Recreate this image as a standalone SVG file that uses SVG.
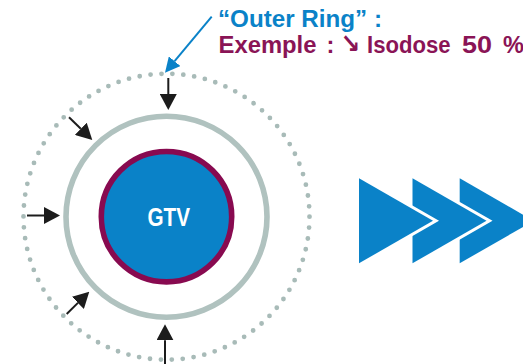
<svg xmlns="http://www.w3.org/2000/svg" width="523" height="364" viewBox="0 0 523 364">
  <style>
    .lbl { font-family: "Liberation Sans", Arial, "DejaVu Sans", sans-serif; font-weight: bold; font-size: 23.5px; }
    .blue { fill: #0a82c8; }
    .plum { fill: #8a1456; }
    .push { stroke: #1c1c1c; stroke-width: 2; fill: none; marker-end: url(#head); }
    .tri { fill: #0a82c8; stroke: #ffffff; stroke-width: 6; stroke-linejoin: miter; paint-order: stroke; }
  </style>
  <defs>
    <marker id="head" markerUnits="userSpaceOnUse" markerWidth="16" markerHeight="17" refX="0" refY="8.5" orient="auto">
      <path d="M0,0 L16,8.5 L0,17 z" fill="#1c1c1c"/>
    </marker>
    <marker id="headBlue" markerUnits="userSpaceOnUse" markerWidth="15" markerHeight="15" refX="0" refY="7.5" orient="auto">
      <path d="M0,0 L15,7.5 L0,15 z" fill="#0a82c8"/>
    </marker>
  </defs>

  <!-- outer ring boundary (dotted) -->
  <g id="outer-ring">
    <circle cx="166.5" cy="216.7" r="143" fill="none" stroke="#a8bbb8" stroke-width="4.8" stroke-linecap="round" stroke-dasharray="0 10.96"/>
  </g>

  <!-- inner margin ring -->
  <g id="margin-ring">
    <circle cx="166.5" cy="216.7" r="100.5" fill="none" stroke="#b0c2bf" stroke-width="5.6"/>
  </g>

  <!-- gross tumour volume -->
  <g id="gtv">
    <circle cx="166.5" cy="216.7" r="65.2" fill="#0a82c8" stroke="#880a50" stroke-width="5.6"/>
    <text class="lbl" x="147.5" y="226" style="font-size:25px" textLength="42.5" lengthAdjust="spacingAndGlyphs" fill="#ffffff">GTV</text>
  </g>

  <!-- label -->
  <g id="label">
    <text class="lbl blue" x="218" y="26.7" textLength="164" lengthAdjust="spacingAndGlyphs">“Outer Ring” :</text>
    <text class="lbl plum" y="52.7">
      <tspan x="218.5" textLength="98" lengthAdjust="spacingAndGlyphs">Exemple</tspan>
      <tspan x="326.5">:</tspan>
      <tspan x="340.5" style="font-size:27px" textLength="19.5" lengthAdjust="spacingAndGlyphs">↘</tspan>
      <tspan x="367" textLength="83.5" lengthAdjust="spacingAndGlyphs">Isodose</tspan>
      <tspan x="462" textLength="30" lengthAdjust="spacingAndGlyphs">50</tspan>
      <tspan x="503">%</tspan>
    </text>
  </g>

  <!-- forward chevrons -->
  <g id="chevrons">
    <polygon class="tri" points="459.7,178.3 533.7,220.8 459.7,263.3"/>
    <polygon class="tri" points="412.5,178.3 486.5,220.8 412.5,263.3"/>
    <polygon class="tri" points="359,178.3 433,220.8 359,263.3"/>
  </g>

  <!-- connectors -->
  <g id="connectors">
    <line x1="211.7" y1="16.7" x2="174.6" y2="61.2" stroke="#0a82c8" stroke-width="2" marker-end="url(#headBlue)"/>
    <line class="push" x1="168.3" y1="78" x2="168.3" y2="94"/>
    <line class="push" x1="27" y1="215.5" x2="44" y2="215.5"/>
    <line class="push" x1="165" y1="364" x2="165" y2="340.3"/>
    <line class="push" x1="69" y1="117.3" x2="80.8" y2="128.8"/>
    <line class="push" x1="66.7" y1="314" x2="77.9" y2="302.9"/>
  </g>
</svg>
